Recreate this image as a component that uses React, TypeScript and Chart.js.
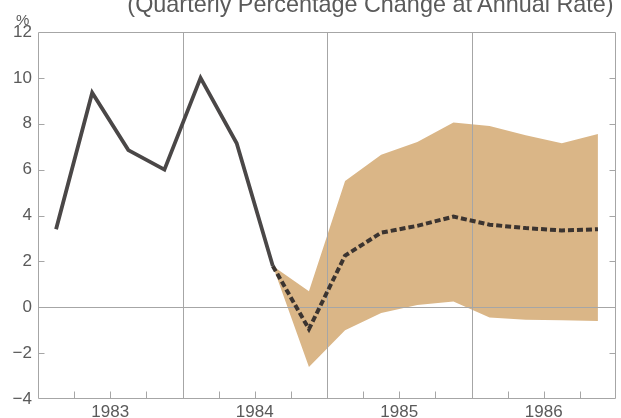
import { useEffect, useRef } from 'react';
import { Chart, registerables } from 'chart.js';

Chart.register(...registerables);

const quarters = [
  '1983Q1', '1983Q2', '1983Q3', '1983Q4',
  '1984Q1', '1984Q2', '1984Q3', '1984Q4',
  '1985Q1', '1985Q2', '1985Q3', '1985Q4',
  '1986Q1', '1986Q2', '1986Q3', '1986Q4',
];
const yearLabels = ['1983', '1984', '1985', '1986'];
const yTickValues = [-4, -2, 0, 2, 4, 6, 8, 10, 12];

// actual (solid) series, from 1983Q1
const actual = [3.4, 9.35, 6.85, 6.0, 10.0, 7.15, 1.8];
// forecast series start at 1984Q3
const forecastStart = 6;
const forecast = [1.8, -0.95, 2.25, 3.25, 3.55, 3.95, 3.6, 3.45, 3.35, 3.4];
const bandUpper = [1.8, 0.7, 5.5, 6.65, 7.2, 8.05, 7.9, 7.5, 7.15, 7.55];
const bandLower = [1.8, -2.6, -1.0, -0.25, 0.1, 0.25, -0.45, -0.55, -0.57, -0.6];

const TITLE = '(Quarterly Percentage Change at Annual Rate)';
const FONT = '"Liberation Sans", Arial, Helvetica, sans-serif';
const TEXT_COLOR = '#5a5a5a';
const LINE_GRAY = '#a6a6a6';

const toPoints = (vals: number[], start: number) =>
  vals.map((v, i) => ({ x: start + i + 0.5, y: v }));

const decor = {
  id: 'decor',
  beforeDatasetsDraw(chart: any) {
    const { ctx, chartArea: a, scales } = chart;
    const x = scales.x;
    const y = scales.y;
    ctx.save();
    ctx.strokeStyle = LINE_GRAY;
    ctx.lineWidth = 1;
    ctx.beginPath();
    for (let k = 1; k < yearLabels.length; k++) {
      const px = Math.round(x.getPixelForValue(k * 4)) + 0.5;
      ctx.moveTo(px, a.top);
      ctx.lineTo(px, a.bottom);
    }
    const py0 = Math.round(y.getPixelForValue(0)) + 0.5;
    ctx.moveTo(a.left, py0);
    ctx.lineTo(a.right, py0);
    ctx.stroke();
    ctx.restore();
  },
  afterDatasetsDraw(chart: any) {
    const { ctx, chartArea: a, scales } = chart;
    const x = scales.x;
    const y = scales.y;
    ctx.save();
    ctx.strokeStyle = LINE_GRAY;
    ctx.lineWidth = 1;
    ctx.beginPath();
    const l = Math.round(a.left) + 0.5;
    const r = Math.round(a.right) - 0.5;
    const t = Math.round(a.top) + 0.5;
    const b = Math.round(a.bottom) - 0.5;
    ctx.rect(l, t, r - l, b - t);
    yTickValues.forEach((v) => {
      if (v === yTickValues[0] || v === yTickValues[yTickValues.length - 1] || v === 0) return;
      const py = Math.round(y.getPixelForValue(v)) + 0.5;
      ctx.moveTo(l, py);
      ctx.lineTo(l + 6, py);
      ctx.moveTo(r, py);
      ctx.lineTo(r - 6, py);
    });
    for (let q = 1; q < quarters.length; q++) {
      if (q % 4 === 0) continue;
      const px = Math.round(x.getPixelForValue(q)) + 0.5;
      ctx.moveTo(px, b);
      ctx.lineTo(px, b - 7);
    }
    ctx.stroke();
    ctx.restore();
  },
};

export default function App() {
  const ref = useRef<HTMLCanvasElement | null>(null);

  useEffect(() => {
    if (!ref.current) return;
    const chart = new Chart(ref.current, {
      type: 'line',
      data: {
        datasets: [
          {
            label: 'Actual',
            data: toPoints(actual, 0),
            borderColor: '#4a4747',
            borderWidth: 3.8,
            pointRadius: 0,
            tension: 0,
            fill: false,
            borderJoinStyle: 'miter',
          },
          {
            label: 'Forecast',
            data: toPoints(forecast, forecastStart),
            borderColor: '#3b3430',
            borderWidth: 4,
            borderDash: [6, 3],
            pointRadius: 0,
            tension: 0,
            fill: false,
          },
          {
            label: 'Upper',
            data: toPoints(bandUpper, forecastStart),
            borderWidth: 0,
            borderColor: 'rgba(0,0,0,0)',
            backgroundColor: '#dab687',
            pointRadius: 0,
            tension: 0,
            fill: '+1',
          },
          {
            label: 'Lower',
            data: toPoints(bandLower, forecastStart),
            borderWidth: 0,
            borderColor: 'rgba(0,0,0,0)',
            pointRadius: 0,
            tension: 0,
            fill: false,
          },
        ],
      },
      options: {
        responsive: false,
        animation: false,
        layout: { padding: { top: 32, right: 5, left: 0, bottom: 0 } },
        plugins: {
          legend: { display: false },
          tooltip: { enabled: false },
          filler: { drawTime: 'beforeDatasetsDraw' },
        } as any,
        scales: {
          x: {
            type: 'linear',
            min: 0,
            max: quarters.length,
            grid: { display: false, drawTicks: false },
            border: { display: false },
            afterBuildTicks: (scale: any) => {
              scale.ticks = yearLabels.map((_, i) => ({ value: i * 4 + 2 }));
            },
            afterFit: (scale: any) => {
              scale.height = 19;
            },
            ticks: {
              autoSkip: false,
              maxRotation: 0,
              padding: 3,
              color: TEXT_COLOR,
              font: { family: FONT, size: 17 },
              callback: (v: any) => yearLabels[(Number(v) - 2) / 4] ?? '',
            },
          },
          y: {
            type: 'linear',
            min: yTickValues[0],
            max: yTickValues[yTickValues.length - 1],
            grid: { display: false, drawTicks: false },
            border: { display: false },
            afterBuildTicks: (scale: any) => {
              scale.ticks = yTickValues.map((v) => ({ value: v }));
            },
            afterFit: (scale: any) => {
              scale.width = 38;
            },
            ticks: {
              padding: 6,
              color: TEXT_COLOR,
              font: { family: FONT, size: 17 },
              callback: (v: any) => (Number(v) < 0 ? '\u2212' + Math.abs(Number(v)) : String(v)),
            },
          },
        },
      },
      plugins: [decor],
    } as any);
    return () => chart.destroy();
  }, []);

  return (
    <div style={{ position: 'absolute', left: 0, top: 0, width: 621, height: 418, overflow: 'hidden', background: '#fff' }}>
      <canvas ref={ref} width={621} height={418} style={{ position: 'absolute', left: 0, top: 0 }} />
      <div
        style={{
          position: 'absolute',
          left: 370.5,
          top: -7,
          transform: 'translateX(-50%)',
          whiteSpace: 'nowrap',
          fontFamily: FONT,
          fontSize: 23.4,
          lineHeight: '23px',
          color: TEXT_COLOR,
        }}
      >
        {TITLE}
      </div>
      <div
        style={{
          position: 'absolute',
          left: 16,
          top: 12,
          fontFamily: FONT,
          fontSize: 15,
          lineHeight: '15px',
          color: TEXT_COLOR,
        }}
      >
        %
      </div>
    </div>
  );
}
